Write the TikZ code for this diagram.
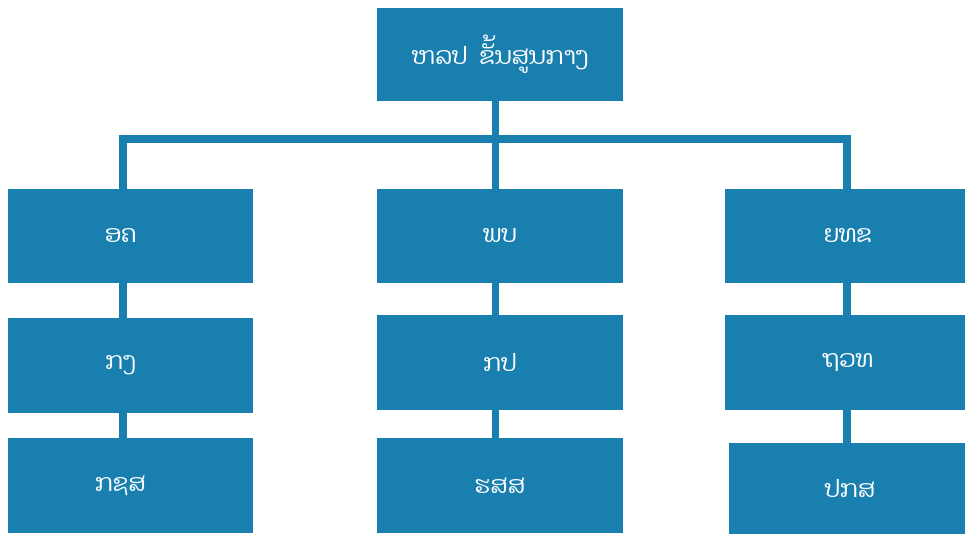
\documentclass[tikz,border=0pt]{standalone}
\usepackage{fontspec}
\newfontfamily\laofont[Script=Lao]{Dhyana}
\definecolor{boxblue}{RGB}{24,127,175}
\begin{document}
\begin{tikzpicture}[x=1pt,y=-1pt,
  box/.style={fill=boxblue, draw=none, inner sep=0pt, text=white,
    font=\laofont\fontsize{24}{28}\selectfont, anchor=center},
  conn/.style={draw=boxblue, line width=7.5pt, line join=miter, line cap=butt}]
\useasboundingbox (0,0) rectangle (965,534);
% boxes
\node[box, minimum width=246pt, minimum height=93pt] (top) at (500,54.5) {ຫລປ\hspace{12pt}ຂັ້ນສູນກາງ};
\node[box, minimum width=245pt, minimum height=94pt] (l1) at (130.5,236) {\hspace*{-20pt}ອຄ};
\node[box, minimum width=246pt, minimum height=94pt] (m1) at (500,236) {ພບ};
\node[box, minimum width=240pt, minimum height=94pt] (r1) at (845,236) {ຍທຂ\hspace*{-6pt}};
\node[box, minimum width=245pt, minimum height=95pt] (l2) at (130.5,365.5) {\hspace*{-20pt}ກງ};
\node[box, minimum width=246pt, minimum height=95pt] (m2) at (500,362.5) {ກປ};
\node[box, minimum width=240pt, minimum height=95pt] (r2) at (845,362.5) {ຖວທ\hspace*{-6pt}};
\node[box, minimum width=245pt, minimum height=95pt] (l3) at (130.5,485.5) {\hspace*{-20pt}ກຊສ};
\node[box, minimum width=246pt, minimum height=95pt] (m3) at (500,485.5) {ຮສສ};
\node[box, minimum width=236pt, minimum height=91pt] (r3) at (847,488.5) {ປກສ\hspace*{-6pt}};
% connector guides
\coordinate (lx) at (123,139);
\coordinate (mx) at (495.5,139);
\coordinate (rx) at (847,139);
% connectors
\draw[conn] (l1.north -| lx) -- (lx) -- (rx) -- (r1.north -| rx);
\draw[conn] (top.south -| mx) -- (m1.north -| mx);
\draw[conn] (l1.south -| lx) -- (l2.north -| lx);
\draw[conn] (l2.south -| lx) -- (l3.north -| lx);
\draw[conn] (m1.south -| mx) -- (m2.north -| mx);
\draw[conn] (m2.south -| mx) -- (m3.north -| mx);
\draw[conn] (r1.south -| rx) -- (r2.north -| rx);
\draw[conn] (r2.south -| rx) -- (r3.north -| rx);
\end{tikzpicture}
\end{document}
